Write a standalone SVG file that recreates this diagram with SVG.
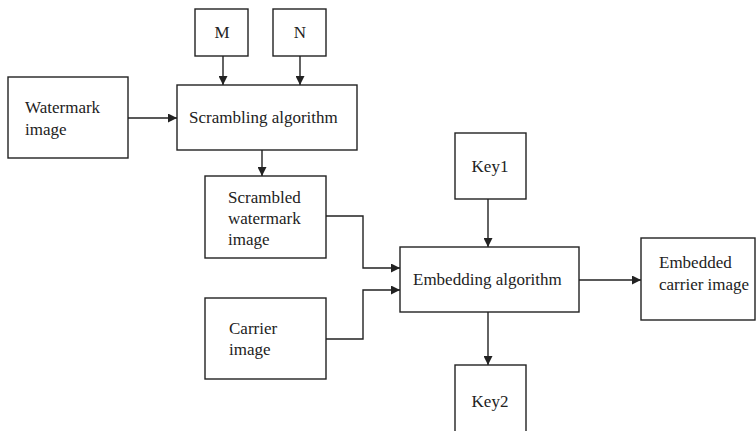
<svg xmlns="http://www.w3.org/2000/svg" width="756" height="431" viewBox="0 0 756 431">
<defs>
<style>
.box{fill:#fff;stroke:#222;stroke-width:1.4}
.t{font-family:"Liberation Serif","Times New Roman",serif;font-size:17px;fill:#222}
.c{text-anchor:middle}
.ln{fill:none;stroke:#222;stroke-width:1.4}
</style>
<marker id="ah" viewBox="0 0 10 10" refX="10" refY="5" markerWidth="9" markerHeight="9" markerUnits="userSpaceOnUse" orient="auto">
<path d="M0,0 L10,5 L0,10 z" fill="#222"/>
</marker>
</defs>
<rect width="756" height="431" fill="#fff"/>
<g id="connectors">
<line class="ln" x1="223" y1="56" x2="223" y2="85" marker-end="url(#ah)"/>
<line class="ln" x1="300" y1="56" x2="300" y2="85" marker-end="url(#ah)"/>
<line class="ln" x1="128" y1="118" x2="177" y2="118" marker-end="url(#ah)"/>
<line class="ln" x1="262" y1="150" x2="262" y2="176" marker-end="url(#ah)"/>
<polyline class="ln" points="326,216 363,216 363,268 400,268" marker-end="url(#ah)"/>
<polyline class="ln" points="326,339 363,339 363,290 400,290" marker-end="url(#ah)"/>
<line class="ln" x1="488" y1="199" x2="488" y2="247" marker-end="url(#ah)"/>
<line class="ln" x1="579" y1="280" x2="641" y2="280" marker-end="url(#ah)"/>
<line class="ln" x1="488" y1="312" x2="488" y2="365" marker-end="url(#ah)"/>
</g>
<g id="M"><rect class="box" x="195" y="9" width="53" height="47"/><text class="t c" x="222" y="38">M</text></g>
<g id="N"><rect class="box" x="273" y="9" width="53" height="47"/><text class="t c" x="300" y="38">N</text></g>
<g id="watermark"><rect class="box" x="8" y="77" width="120" height="81"/><text class="t" x="25" y="113">Watermark</text><text class="t" x="25" y="135">image</text></g>
<g id="scrambling"><rect class="box" x="177" y="85" width="180" height="65"/><text class="t" x="189" y="123">Scrambling algorithm</text></g>
<g id="scrambled"><rect class="box" x="205" y="176" width="121" height="82"/><text class="t" x="228" y="203">Scrambled</text><text class="t" x="228" y="224">watermark</text><text class="t" x="228" y="245">image</text></g>
<g id="carrier"><rect class="box" x="205" y="298" width="121" height="81"/><text class="t" x="229" y="334">Carrier</text><text class="t" x="229" y="355">image</text></g>
<g id="key1"><rect class="box" x="455" y="133" width="71" height="66"/><text class="t c" x="490" y="172">Key1</text></g>
<g id="embedding"><rect class="box" x="400" y="247" width="179" height="65"/><text class="t" x="413" y="285">Embedding algorithm</text></g>
<g id="embedded"><rect class="box" x="641" y="238" width="114" height="82"/><text class="t" x="659" y="268">Embedded</text><text class="t" x="659" y="290">carrier image</text></g>
<g id="key2"><rect class="box" x="455" y="365" width="71" height="75"/><text class="t c" x="490" y="407">Key2</text></g>
</svg>
